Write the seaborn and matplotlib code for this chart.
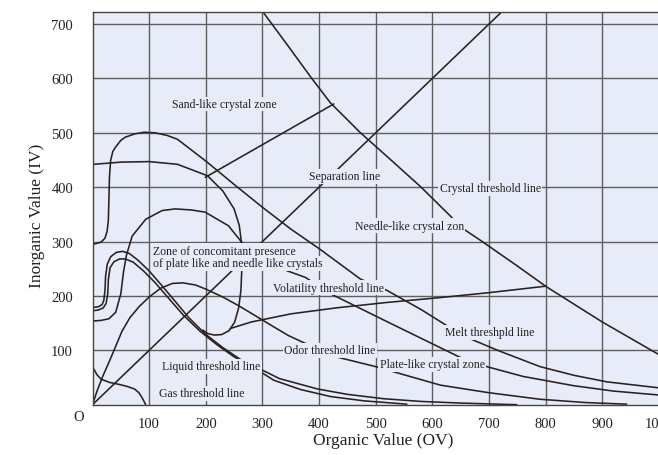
import matplotlib
matplotlib.use("Agg")
import matplotlib.pyplot as plt
import pandas as pd
import seaborn as sns

# ---- curve data: Organic Value (OV) vs Inorganic Value (IV) ----
crystal_ov = [301, 345, 387, 420, 473, 530, 580, 655, 688, 750, 801, 900, 1000]
crystal_iv = [722, 660, 600, 555, 500, 447, 400, 323, 300, 255, 217, 152, 92]

separation_ov = [0, 722]
separation_iv = [0, 722]

sand_ov = [199, 426]
sand_iv = [418, 553]

needle_plate_ov = [243, 280, 350, 430, 520, 614, 700, 801]
needle_plate_iv = [140, 152, 167, 178, 188, 197, 206, 218]

melt_ov = [2, 15, 22, 26, 28, 29, 30, 32, 36, 41, 50, 58, 75, 91, 110, 132, 150,
           200, 250, 300, 350, 400, 473, 520, 580, 626, 667, 720, 790, 850, 908, 1000]
melt_iv = [295, 299, 306, 320, 340, 380, 420, 449, 466, 474, 486, 492, 498, 501, 500, 495, 488,
           448, 405, 363, 323, 287, 231, 210, 175, 145, 121, 98, 70, 54, 42, 31]

upper_loop_ov = [2, 50, 100, 150, 203, 230, 250, 259, 263, 264, 262, 258, 251, 241, 228, 215, 203, 195]
upper_loop_iv = [442, 446, 447, 442, 421, 393, 360, 330, 298, 260, 210, 178, 152, 136, 129, 128, 131, 137]

plate_ov = [2, 15, 29, 41, 50, 55, 60, 70, 94, 123, 146, 175, 199, 240, 264, 300, 344, 376,
            420, 535, 649, 696, 760, 849, 920, 998]
plate_iv = [154, 155, 158, 170, 204, 246, 275, 310, 341, 357, 360, 358, 354, 329, 298, 268, 246, 234,
            204, 145, 87, 70, 52, 35, 25, 18]

odor_ov = [0, 8, 18, 29, 40, 52, 66, 82, 100, 120, 141, 160, 182, 199, 230, 258, 290, 317,
           346, 373, 426, 500, 560, 614, 700, 790, 870, 943]
odor_iv = [0, 25, 52, 78, 105, 135, 160, 180, 198, 214, 223, 224, 220, 213, 198, 182, 162, 145,
           127, 114, 89, 70, 52, 36, 22, 10, 4, 1]

liquid_a_ov = [2, 10, 17, 20, 22, 23, 26, 32, 42, 53, 65, 80, 100, 120, 146, 170, 199, 230,
               260, 297, 330, 397, 450, 514, 580, 650, 749]
liquid_a_iv = [179, 180, 184, 192, 210, 235, 258, 272, 280, 282, 278, 266, 246, 222, 190, 160, 130, 105,
               84, 65, 48, 29, 19, 11, 6, 3, 0]

liquid_b_ov = [2, 10, 19, 24, 27, 28, 31, 38, 48, 58, 72, 90, 110, 135, 160, 190, 220, 250,
               279, 320, 367, 420, 480, 555]
liquid_b_iv = [173, 174, 178, 186, 205, 230, 252, 263, 268, 268, 262, 246, 225, 195, 165, 135, 110, 88,
               72, 45, 28, 15, 7, 1]

gas_ov = [2, 8, 15, 30, 44, 60, 74, 82, 88, 92, 94]
gas_iv = [66, 55, 47, 41, 38, 34, 29, 22, 12, 4, 0]

x_ticks = [100, 200, 300, 400, 500, 600, 700, 800, 900, 1000]
y_ticks = [100, 200, 300, 400, 500, 600, 700]

# zone / line annotations: (text, OV, IV, horizontal alignment)
annotations = [
    ("Sand-like crystal zone", 233, 553, "center"),
    ("Separation line", 445, 420, "center"),
    ("Crystal threshold line", 702, 398, "center"),
    ("Needle-like crystal zon", 559, 329, "center"),
    ("Zone of concomitant presence", 106, 283, "left"),
    ("of plate like and needle like crystals", 106, 260, "left"),
    ("Volatility threshold line", 416, 215, "center"),
    ("Melt threshpld line", 702, 133, "center"),
    ("Odor threshold line", 419, 100, "center"),
    ("Plate-like crystal zone", 600, 74, "center"),
    ("Liquid threshold line", 210, 71, "center"),
    ("Gas threshold line", 193, 21, "center"),
]

curves = {
    "crystal": (crystal_ov, crystal_iv),
    "separation": (separation_ov, separation_iv),
    "sand": (sand_ov, sand_iv),
    "needle_plate": (needle_plate_ov, needle_plate_iv),
    "melt": (melt_ov, melt_iv),
    "upper_loop": (upper_loop_ov, upper_loop_iv),
    "plate": (plate_ov, plate_iv),
    "odor": (odor_ov, odor_iv),
    "liquid_a": (liquid_a_ov, liquid_a_iv),
    "liquid_b": (liquid_b_ov, liquid_b_iv),
    "gas": (gas_ov, gas_iv),
}

rows = []
for name, (xs, ys) in curves.items():
    for i, (x, y) in enumerate(zip(xs, ys)):
        rows.append({"curve": name, "order": i, "OV": x, "IV": y})
df = pd.DataFrame(rows)

BG = "#e8ecf8"
INK = "#2b2020"
GRID = "#5e5e5e"
TEXT = "#222222"

sns.set_theme(style="white")
plt.rcParams["font.family"] = ["Liberation Serif", "DejaVu Serif"]

fig = plt.figure(figsize=(6.58, 4.56), dpi=100)
ax = fig.add_axes([92.5 / 658, 50.3 / 456, 566.5 / 658, 393 / 456])
ax.set_facecolor(BG)

sns.lineplot(data=df, x="OV", y="IV", units="curve", estimator=None, sort=False,
             color=INK, linewidth=1.15, legend=False, ax=ax, zorder=2)

ax.set_xlim(0, 1000)
ax.set_ylim(0, 722.6)
ax.set_xticks(x_ticks)
ax.set_xticklabels([str(v) for v in x_ticks])
ax.set_yticks(y_ticks)
ax.set_yticklabels([str(v) for v in y_ticks])
ax.tick_params(axis="both", length=0, labelsize=10.5, colors=TEXT)
ax.tick_params(axis="x", pad=9)
ax.tick_params(axis="y", pad=14)
ax.grid(True, color=GRID, linewidth=1.0)
ax.set_axisbelow(True)
ax.set_xlabel("")
ax.set_ylabel("")
for side in ["left", "bottom", "top"]:
    ax.spines[side].set_color("#444444")
    ax.spines[side].set_linewidth(1.0)
ax.spines["right"].set_visible(False)

for text, x, y, ha in annotations:
    ax.text(x, y, text, ha=ha, va="center", fontsize=8.5, color=TEXT, zorder=4,
            bbox=dict(boxstyle="square,pad=0.12", fc=BG, ec="none"))

ax.text(-0.024, -0.031, "O", transform=ax.transAxes, ha="center", va="center",
        fontsize=10.5, color=TEXT)

fig.text(383 / 658, 1 - 441 / 456, "Organic Value (OV)", ha="center", va="center",
         fontsize=12.5, color=TEXT)
fig.text(37 / 658, 1 - 216 / 456, "Inorganic Value (IV)", ha="center", va="center",
         rotation=90, fontsize=12.5, color=TEXT)

fig.savefig("out.png", dpi=100, facecolor="white")
